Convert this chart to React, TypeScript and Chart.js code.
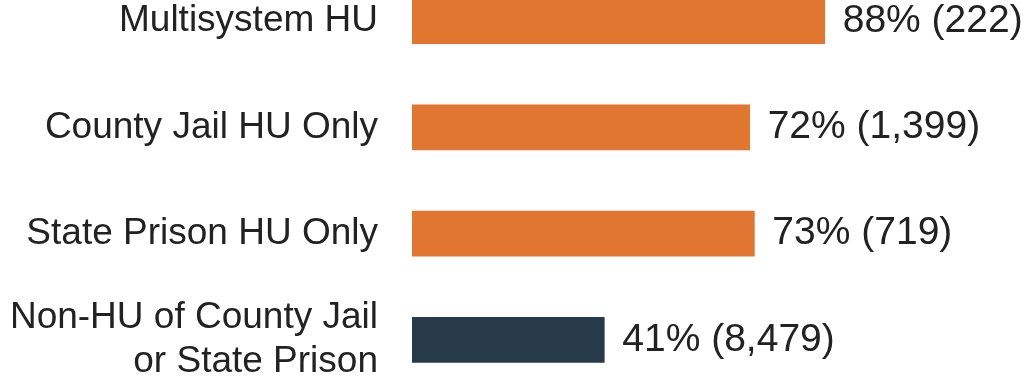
import { useEffect, useRef } from "react";
import { Chart, registerables } from "chart.js";
Chart.register(...registerables);

const categories: (string | string[])[] = [
  "Multisystem HU",
  "County Jail HU Only",
  "State Prison HU Only",
  ["Non-HU of County Jail", "or State Prison"],
];
const percents = [88, 72, 73, 41];
const counts = ["222", "1,399", "719", "8,479"];
const barColors = ["#E0762F", "#E0762F", "#E0762F", "#263A4A"];

const FONT = "'Liberation Sans', Arial, sans-serif";

export default function App() {
  const ref = useRef<HTMLCanvasElement>(null);
  useEffect(() => {
    const valueLabels = {
      id: "valueLabels",
      afterDatasetsDraw(chart: any) {
        const ctx = chart.ctx;
        const meta = chart.getDatasetMeta(0);
        ctx.save();
        ctx.font = `39px ${FONT}`;
        ctx.fillStyle = "#222";
        ctx.textAlign = "left";
        ctx.textBaseline = "middle";
        meta.data.forEach((el: any, i: number) => {
          ctx.fillText(`${percents[i]}% (${counts[i]})`, el.x + 18, el.y);
        });
        ctx.restore();
      },
    };
    const chart = new Chart(ref.current as HTMLCanvasElement, {
      type: "bar",
      data: {
        labels: categories,
        datasets: [{ data: percents, backgroundColor: barColors, barThickness: 45 }],
      },
      options: {
        indexAxis: "y",
        animation: false,
        responsive: false,
        maintainAspectRatio: false,
        layout: { padding: { left: 0, right: 144, top: 0, bottom: 0 } },
        plugins: { legend: { display: false }, tooltip: { enabled: false } },
        scales: {
          x: { display: false, min: 0, max: 100 },
          y: {
            grid: { display: false, drawTicks: false },
            border: { display: false },
            ticks: {
              padding: 34,
              color: "#222",
              font: { family: FONT, size: 37, lineHeight: 1.2 },
            },
            afterFit(s: any) {
              s.width = 412;
              s.paddingTop = 0;
              s.paddingBottom = 0;
            },
          },
        },
      },
      plugins: [valueLabels],
    });
    return () => chart.destroy();
  }, []);
  return (
    <div style={{ position: "fixed", left: 0, top: -32, width: 1025, height: 425 }}>
      <canvas ref={ref} width={1025} height={425} style={{ display: "block" }} />
    </div>
  );
}
